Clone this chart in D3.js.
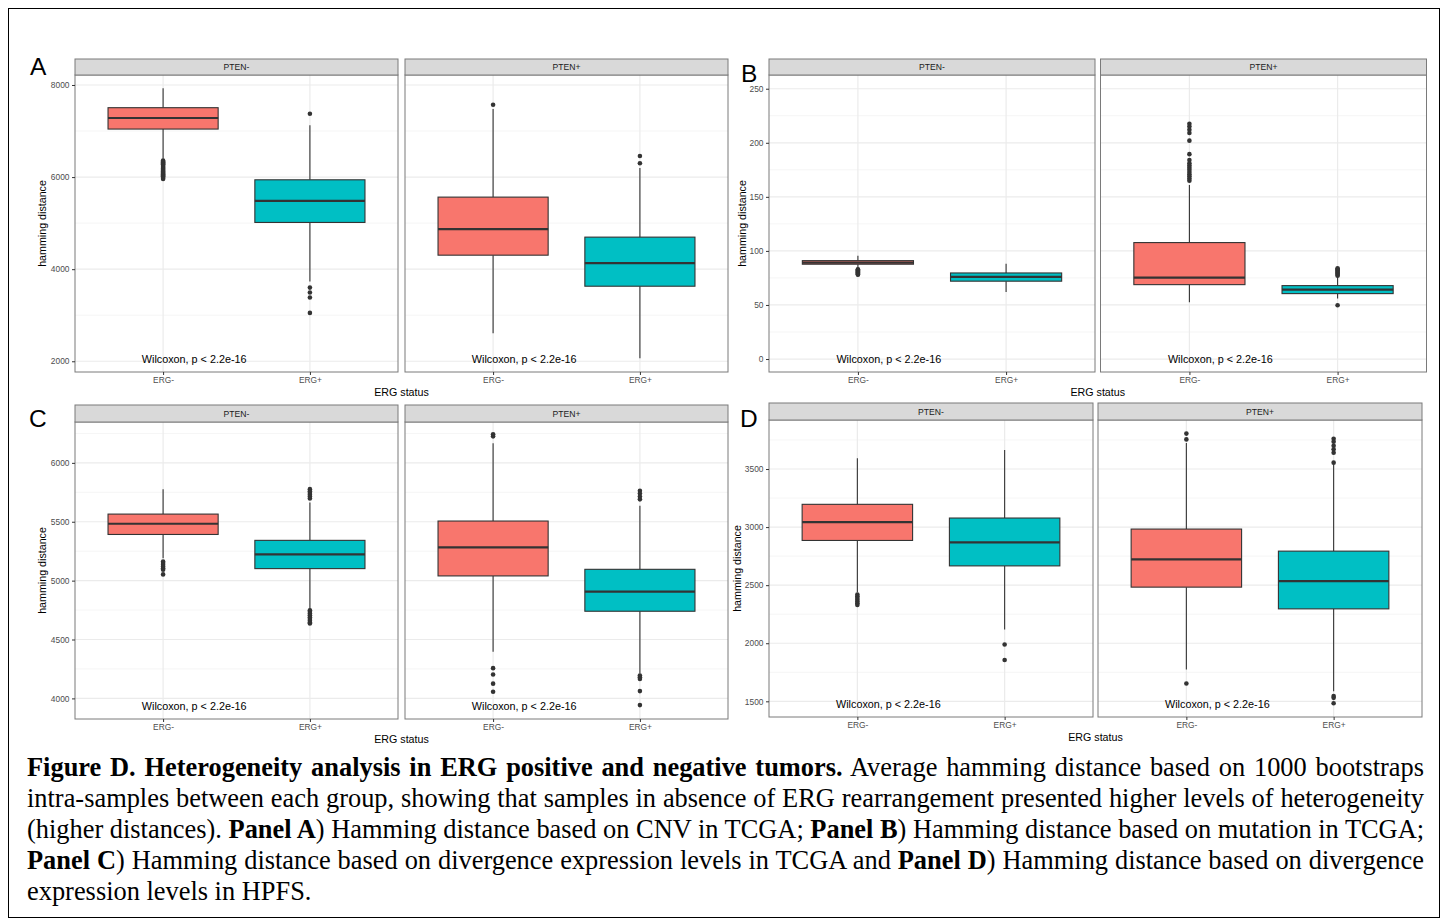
<!DOCTYPE html>
<html>
<head>
<meta charset="utf-8">
<script src="https://cdn.jsdelivr.net/npm/d3@7"></script>
<style>
  html, body { margin: 0; padding: 0; background: #fff; }
  #wrap { position: relative; width: 1448px; height: 919px; overflow: hidden; }
  svg { position: absolute; left: 0; top: 0; }
  .caption {
    position: absolute; left: 27px; top: 752px; width: 1397px;
    font-family: "Liberation Serif", "Times New Roman", serif;
    font-size: 26.4px; line-height: 31px; color: #000;
  }
  .caption div { text-align: justify; text-align-last: justify; white-space: nowrap; }
  .caption div.last { text-align-last: left; }
</style>
</head>
<body>
<div id="wrap">
  <svg id="fig" width="1448" height="919"></svg>
  <div class="caption">
    <div><b>Figure D. Heterogeneity analysis in ERG positive and negative tumors.</b> Average hamming distance based on 1000 bootstraps</div>
    <div>intra-samples between each group, showing that samples in absence of ERG rearrangement presented higher levels of heterogeneity</div>
    <div>(higher distances). <b>Panel A</b>) Hamming distance based on CNV in TCGA; <b>Panel B</b>) Hamming distance based on mutation in TCGA;</div>
    <div><b>Panel C</b>) Hamming distance based on divergence expression levels in TCGA and <b>Panel D</b>) Hamming distance based on divergence</div>
    <div class="last">expression levels in HPFS.</div>
  </div>
</div>
<script>
// facets and groups shared by all four panels
const facets = ['PTEN-', 'PTEN+']
const groups = ['ERG-', 'ERG+']
const colors = ['#F8766D', '#00BFC4']

// box stats: [lower whisker, q1, median, q3, upper whisker] per facet, per group
const statsA = [
  [[6400, 7043, 7283, 7507, 7928], [3730, 5015, 5485, 5941, 7124]],
  [[2609, 4304, 4870, 5565, 7480], [2065, 3630, 4130, 4696, 6196]]
]
const outliersA = [
  [[6360, 6340, 6320, 6300, 6280, 6260, 6240, 6220, 6200, 6180, 6160, 6140, 6120, 6100, 6080, 6060, 6040, 6020, 6000, 5980, 5960],
   [7376, 3600, 3494, 3385, 3050]],
  [[7570], [6457, 6300]]
]
const statsB = [
  [[84, 87.7, 89.2, 91, 95.6], [62, 72, 76, 79.6, 88.2]],
  [[52.5, 68.8, 75.3, 107.7, 161], [56, 60.5, 64.2, 67.9, 76]]
]
const outliersB = [
  [[83, 82.5, 82, 81.5, 81, 80.5, 80, 79.5, 79, 78.5, 78], []],
  [[217.6, 215, 212, 209, 202, 189.5, 184, 181, 179, 177, 175, 173, 171, 169, 167, 165],
   [77, 78, 79, 80, 81, 82, 83, 84, 49.7]]
]
const statsC = [
  [[5190, 5392, 5483, 5565, 5777], [4760, 5102, 5223, 5342, 5664]],
  [[4396, 5040, 5282, 5506, 6167], [4212, 4740, 4907, 5096, 5636]]
]
const outliersC = [
  [[5163, 5150, 5135, 5120, 5105, 5093, 5053],
   [5777, 5760, 5745, 5730, 5715, 5697, 4748, 4735, 4720, 4705, 4690, 4675, 4660, 4645, 4636]],
  [[6243, 6225, 4257, 4203, 4125, 4057],
   [5763, 5740, 5715, 5690, 4195, 4180, 4165, 4062, 3943]]
]
const statsD = [
  [[2440, 2885, 3043, 3196, 3592], [2118, 2666, 2868, 3078, 3664]],
  [[1773, 2483, 2722, 2983, 3724], [1586, 2296, 2534, 2793, 3540]]
]
const outliersD = [
  [[2420, 2405, 2390, 2375, 2360, 2345, 2330], [1989, 1856]],
  [[3805, 3755, 1653], [3760, 3735, 3700, 3670, 3640, 3555, 1545, 1530, 1483]]
]

// axis ticks
const ticksA = [2000, 4000, 6000, 8000], minorA = [3000, 5000, 7000]
const ticksB = [0, 50, 100, 150, 200, 250], minorB = [25, 75, 125, 175, 225]
const ticksC = [4000, 4500, 5000, 5500, 6000], minorC = [4250, 4750, 5250, 5750, 6250]
const ticksD = [1500, 2000, 2500, 3000, 3500], minorD = [1750, 2250, 2750, 3250, 3750]

const pLabel = 'Wilcoxon, p < 2.2e-16'

// page layout of the four panels
const panels = [
  {letter: 'A', lx: 30, ly: 75, x0: 75, fw: 323, gap: 7, stripTop: 59, top: 75, bottom: 372,
   domain: [1767, 8217], ticks: ticksA, minor: minorA, stats: statsA, outliers: outliersA, ytx: 42.5, xty: 392},
  {letter: 'B', lx: 741, ly: 81.7, x0: 769, fw: 326, gap: 5.5, stripTop: 59, top: 75, bottom: 372,
   domain: [-12, 262.7], ticks: ticksB, minor: minorB, stats: statsB, outliers: outliersB, ytx: 742, xty: 392.5},
  {letter: 'C', lx: 29, ly: 426.7, x0: 75, fw: 323, gap: 7, stripTop: 405, top: 422, bottom: 719,
   domain: [3825, 6347], ticks: ticksC, minor: minorC, stats: statsC, outliers: outliersC, ytx: 42.5, xty: 739},
  {letter: 'D', lx: 740, ly: 427.3, x0: 769, fw: 324, gap: 5, stripTop: 403, top: 420, bottom: 717,
   domain: [1365, 3922], ticks: ticksD, minor: minorD, stats: statsD, outliers: outliersD, ytx: 737, xty: 737.3}
]

const svg = d3.select('#fig')
const font = '"Liberation Sans", Arial, Helvetica, sans-serif'

svg.append('rect')
  .attr('x', 8.5).attr('y', 8.5).attr('width', 1431).attr('height', 909)
  .attr('fill', 'none').attr('stroke', '#000').attr('stroke-width', 1)

panels.forEach(p => {
  const g = svg.append('g').attr('font-family', font)

  const y = d3.scaleLinear().domain(p.domain).range([p.bottom, p.top])

  g.append('text')
    .attr('x', p.lx).attr('y', p.ly)
    .attr('font-size', 24.5).attr('fill', '#000')
    .text(p.letter)

  facets.forEach((facet, fi) => {
    const fx0 = p.x0 + fi * (p.fw + p.gap)
    const fx1 = fx0 + p.fw
    const x = d3.scalePoint().domain(groups).range([fx0, fx1]).padding(0.6)
    const bw = x.step() * 0.75

    const f = g.append('g')

    // grid
    f.selectAll('.minor').data(p.minor.filter(v => y(v) > p.top && y(v) < p.bottom))
      .enter().append('line')
      .attr('x1', fx0).attr('x2', fx1)
      .attr('y1', d => y(d)).attr('y2', d => y(d))
      .attr('stroke', '#f2f2f2').attr('stroke-width', 0.8)
    f.selectAll('.major').data(p.ticks)
      .enter().append('line')
      .attr('x1', fx0).attr('x2', fx1)
      .attr('y1', d => y(d)).attr('y2', d => y(d))
      .attr('stroke', '#ebebeb').attr('stroke-width', 1.2)
    f.selectAll('.vgrid').data(groups)
      .enter().append('line')
      .attr('x1', d => x(d)).attr('x2', d => x(d))
      .attr('y1', p.top).attr('y2', p.bottom)
      .attr('stroke', '#ebebeb').attr('stroke-width', 1.2)

    // boxes
    groups.forEach((grp, gi) => {
      const s = p.stats[fi][gi]
      const cx = x(grp)
      const b = f.append('g')
      b.append('line')
        .attr('x1', cx).attr('x2', cx).attr('y1', y(s[4])).attr('y2', y(s[3]))
        .attr('stroke', '#333').attr('stroke-width', 1.1)
      b.append('line')
        .attr('x1', cx).attr('x2', cx).attr('y1', y(s[1])).attr('y2', y(s[0]))
        .attr('stroke', '#333').attr('stroke-width', 1.1)
      b.append('rect')
        .attr('x', cx - bw / 2).attr('width', bw)
        .attr('y', y(s[3])).attr('height', y(s[1]) - y(s[3]))
        .attr('fill', colors[gi]).attr('stroke', '#333').attr('stroke-width', 1.1)
      b.append('line')
        .attr('x1', cx - bw / 2).attr('x2', cx + bw / 2)
        .attr('y1', y(s[2])).attr('y2', y(s[2]))
        .attr('stroke', '#333').attr('stroke-width', 2.2)
      b.selectAll('circle').data(p.outliers[fi][gi])
        .enter().append('circle')
        .attr('cx', cx).attr('cy', d => y(d)).attr('r', 2.3)
        .attr('fill', '#333')
    })

    // comparison label
    f.append('text')
      .attr('x', x(groups[0]) - x.step() * 0.145)
      .attr('y', p.bottom - 13).attr('dy', '0.35em')
      .attr('font-size', 10.8).attr('fill', '#000')
      .text(pLabel)

    // panel border
    f.append('rect')
      .attr('x', fx0).attr('y', p.top).attr('width', p.fw).attr('height', p.bottom - p.top)
      .attr('fill', 'none').attr('stroke', '#7a7a7a').attr('stroke-width', 1)

    // strip
    f.append('rect')
      .attr('x', fx0).attr('y', p.stripTop).attr('width', p.fw).attr('height', p.top - p.stripTop)
      .attr('fill', '#d9d9d9').attr('stroke', '#7a7a7a').attr('stroke-width', 1)
    f.append('text')
      .attr('x', (fx0 + fx1) / 2).attr('y', (p.stripTop + p.top) / 2).attr('dy', '0.35em')
      .attr('text-anchor', 'middle').attr('font-size', 8.6).attr('fill', '#1a1a1a')
      .text(facet)

    // x axis
    const xa = f.append('g')
      .attr('transform', `translate(0,${p.bottom})`)
      .call(d3.axisBottom(x).tickSize(3).tickPadding(2.5))
    xa.select('.domain').remove()
    xa.selectAll('line').attr('stroke', '#333')
    xa.selectAll('text').attr('font-size', 8.4).attr('fill', '#4d4d4d').attr('font-family', font)

    // y axis only on the left facet
    if (fi === 0) {
      const ya = f.append('g')
        .attr('transform', `translate(${fx0},0)`)
        .call(d3.axisLeft(y).tickValues(p.ticks).tickFormat(d3.format('d')).tickSize(3).tickPadding(2.5))
      ya.select('.domain').remove()
      ya.selectAll('line').attr('stroke', '#333')
      ya.selectAll('text').attr('font-size', 8.4).attr('fill', '#4d4d4d').attr('font-family', font)
    }
  })

  // axis titles
  const fxEnd = p.x0 + 2 * p.fw + p.gap
  g.append('text')
    .attr('x', (p.x0 + fxEnd) / 2).attr('y', p.xty).attr('dy', '0.35em')
    .attr('text-anchor', 'middle').attr('font-size', 10.7).attr('fill', '#000')
    .text('ERG status')
  g.append('text')
    .attr('transform', `translate(${p.ytx},${(p.top + p.bottom) / 2}) rotate(-90)`)
    .attr('dy', '0.35em')
    .attr('text-anchor', 'middle').attr('font-size', 10.7).attr('fill', '#000')
    .text('hamming distance')
})
</script>
</body>
</html>
